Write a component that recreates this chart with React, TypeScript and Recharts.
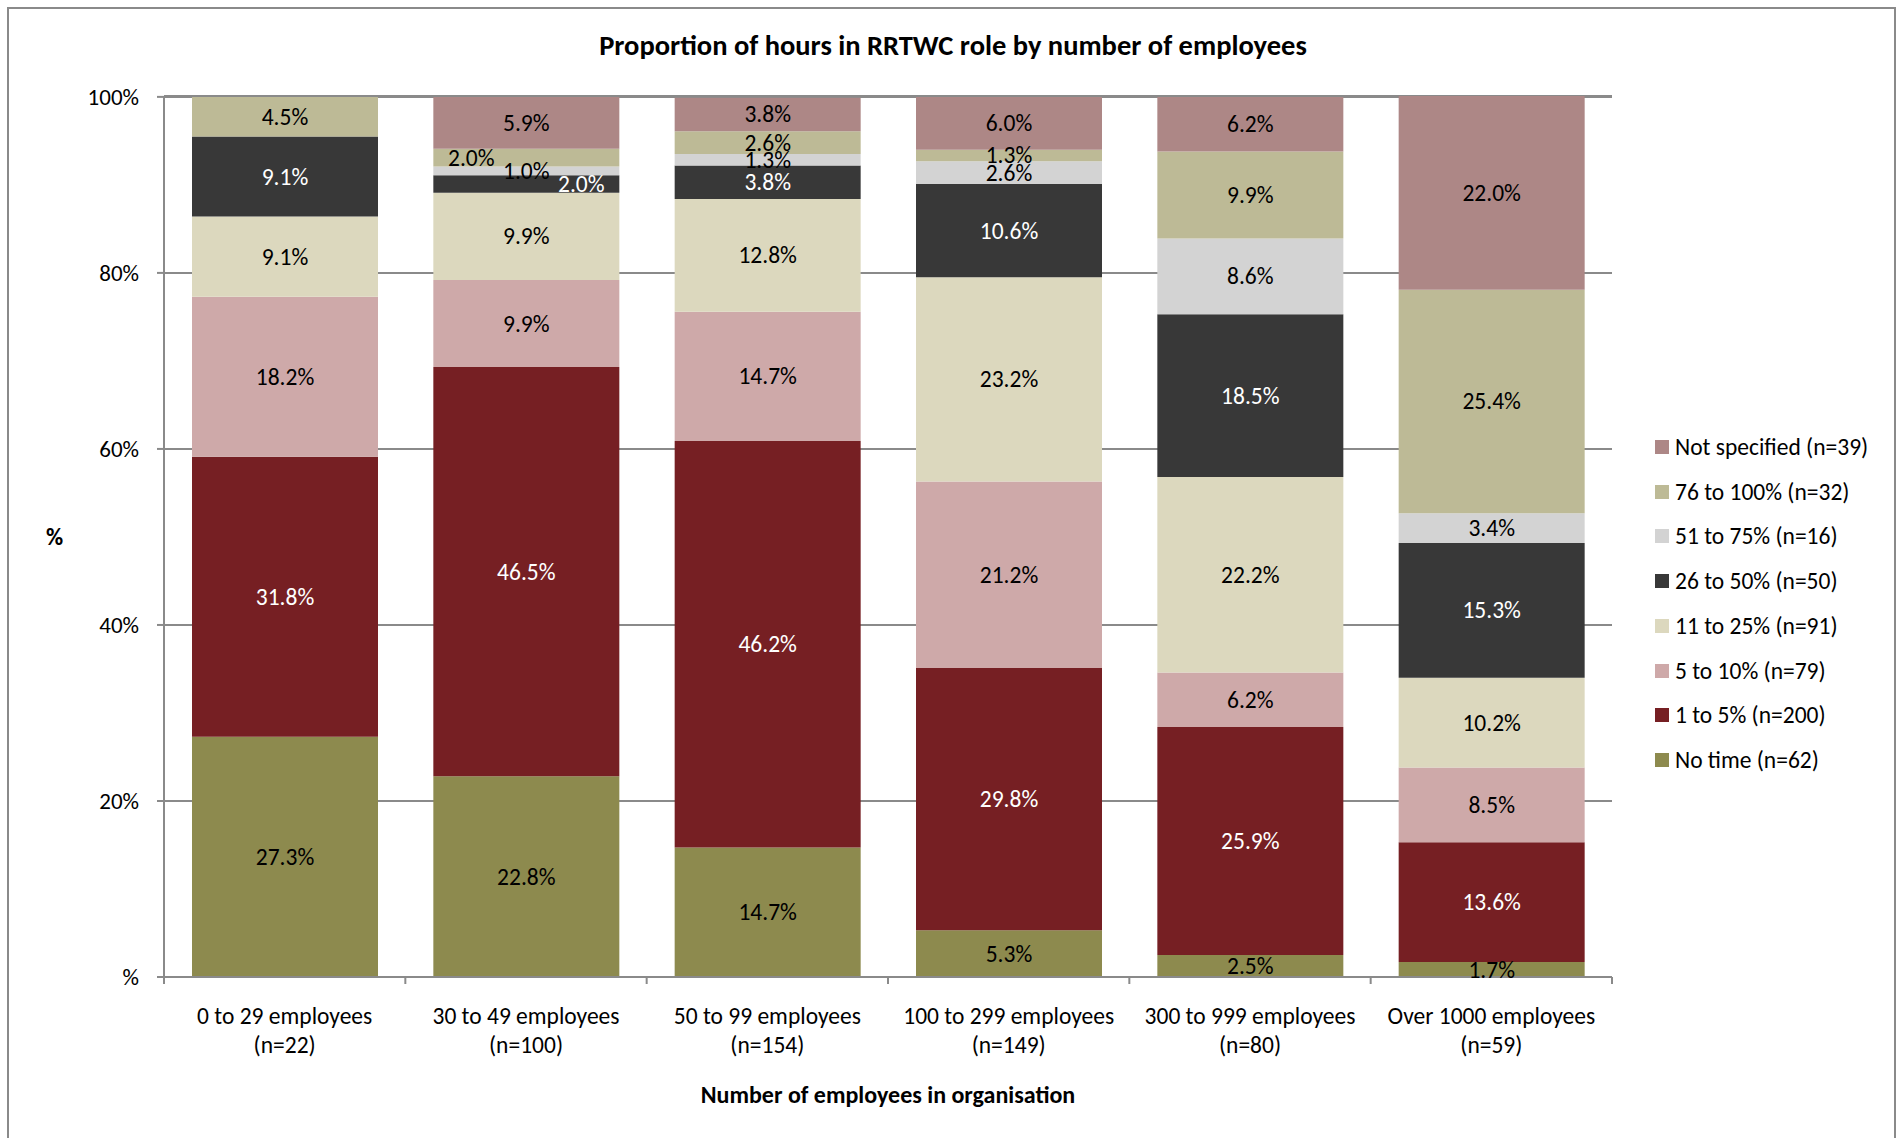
import { Bar, BarChart, CartesianGrid, LabelList, XAxis, YAxis } from "recharts";

const CATEGORIES = [
  "0 to 29 employees",
  "30 to 49 employees",
  "50 to 99 employees",
  "100 to 299 employees",
  "300 to 999 employees",
  "Over 1000 employees",
];
const CATEGORY_COUNTS = ["(n=22)", "(n=100)", "(n=154)", "(n=149)", "(n=80)", "(n=59)"];

// stacking order, bottom to top
const SERIES_NAMES = [
  "No time (n=62)",
  "1 to 5% (n=200)",
  "5 to 10% (n=79)",
  "11 to 25% (n=91)",
  "26 to 50% (n=50)",
  "51 to 75% (n=16)",
  "76 to 100% (n=32)",
  "Not specified (n=39)",
];

const NO_TIME = [27.3, 22.8, 14.7, 5.3, 2.5, 1.7];
const ONE_TO_FIVE = [31.8, 46.5, 46.2, 29.8, 25.9, 13.6];
const FIVE_TO_TEN = [18.2, 9.9, 14.7, 21.2, 6.2, 8.5];
const ELEVEN_TO_25 = [9.1, 9.9, 12.8, 23.2, 22.2, 10.2];
const TWENTYSIX_TO_50 = [9.1, 2.0, 3.8, 10.6, 18.5, 15.3];
const FIFTYONE_TO_75 = [0, 1.0, 1.3, 2.6, 8.6, 3.4];
const SEVENTYSIX_TO_100 = [4.5, 2.0, 2.6, 1.3, 9.9, 25.4];
const NOT_SPECIFIED = [0, 5.9, 3.8, 6.0, 6.2, 22.0];

const SERIES_VALUES = [
  NO_TIME,
  ONE_TO_FIVE,
  FIVE_TO_TEN,
  ELEVEN_TO_25,
  TWENTYSIX_TO_50,
  FIFTYONE_TO_75,
  SEVENTYSIX_TO_100,
  NOT_SPECIFIED,
];

const Y_TICKS = [0, 20, 40, 60, 80, 100];
const Y_TICK_LABELS = ["%", "20%", "40%", "60%", "80%", "100%"];

const SERIES_COLORS = ["#8D8A4E", "#761F23", "#CEA9A9", "#DCD8BE", "#383838", "#D3D3D3", "#BDBA96", "#AD8786"];
const LABEL_COLORS = ["#000", "#fff", "#000", "#000", "#fff", "#000", "#000", "#000"];

// Excel pushed a couple of crowded labels sideways
const LABEL_DX: Record<number, number[]> = {
  4: [0, 55, 0, 0, 0, 0],
  6: [0, -55, 0, 0, 0, 0],
};

const W = 1901;
const H = 1138;
const PLOT_LEFT = 164;
const PLOT_RIGHT = 1612;
const PLOT_TOP = 96;
const PLOT_BOTTOM = 977;
const Y_AXIS_W = 120;
const X_AXIS_H = 110;
const BAND = (PLOT_RIGHT - PLOT_LEFT) / CATEGORIES.length;

const FONT = "Carlito, Calibri, Lato, sans-serif";
const GREY = "#8a8a8a";
const TEXT_SIZE = 23.5;

const data = CATEGORIES.map((category, i) => {
  const row: Record<string, string | number> = { category, count: CATEGORY_COUNTS[i] };
  SERIES_NAMES.forEach((name, s) => {
    row[name] = SERIES_VALUES[s][i];
  });
  return row;
});

function makeLabel(seriesIndex: number) {
  return (props: any) => {
    const value = Number(props.value);
    if (!value) return null;
    const x = Number(props.x);
    const y = Number(props.y);
    const w = Number(props.width);
    const h = Number(props.height);
    const dx = LABEL_DX[seriesIndex]?.[props.index] ?? 0;
    return (
      <text
        x={x + w / 2 + dx}
        y={y + h / 2}
        textAnchor="middle"
        dominantBaseline="central"
        fontFamily={FONT}
        fontSize={TEXT_SIZE}
        fill={LABEL_COLORS[seriesIndex]}
      >
        {value.toFixed(1)}%
      </text>
    );
  };
}

function CategoryTick(props: any) {
  const { x, y, payload, index } = props;
  const i = payload?.index ?? index ?? 0;
  return (
    <g>
      {i === 0 ? <line x1={x - BAND / 2} x2={x - BAND / 2} y1={y} y2={y + 7} stroke={GREY} strokeWidth={2} /> : null}
      <line x1={x + BAND / 2} x2={x + BAND / 2} y1={y} y2={y + 7} stroke={GREY} strokeWidth={2} />
      <text x={x} y={y} textAnchor="middle" fontFamily={FONT} fontSize={TEXT_SIZE} fill="#000">
        <tspan x={x} dy={47}>{payload.value}</tspan>
        <tspan x={x} dy={29}>{CATEGORY_COUNTS[i]}</tspan>
      </text>
    </g>
  );
}

export default function App() {
  return (
    <div style={{ position: "absolute", left: 0, top: 0, width: W, height: H, background: "#fff", overflow: "hidden", fontFamily: FONT }}>
      <div
        style={{
          position: "absolute",
          left: 7,
          top: 7,
          width: 1889,
          height: H + 20,
          border: `2px solid ${GREY}`,
          boxSizing: "border-box",
        }}
      />
      <div
        style={{
          position: "absolute",
          left: 0,
          width: 1906,
          top: 30,
          textAlign: "center",
          fontWeight: 700,
          fontSize: 28.5,
          lineHeight: "32px",
        }}
      >
        Proportion of hours in RRTWC role by number of employees
      </div>
      <div style={{ position: "absolute", left: 46, top: 522, fontWeight: 700, fontSize: 23.5, lineHeight: "30px" }}>%</div>
      <div
        style={{
          position: "absolute",
          left: PLOT_LEFT,
          width: PLOT_RIGHT - PLOT_LEFT,
          top: 1080,
          textAlign: "center",
          fontWeight: 700,
          fontSize: 24,
          lineHeight: "30px",
        }}
      >
        Number of employees in organisation
      </div>

      <div style={{ position: "absolute", left: 0, top: 0 }}>
        <BarChart
          width={W}
          height={H}
          data={data}
          barSize={186}
          margin={{
            top: PLOT_TOP,
            right: W - PLOT_RIGHT,
            bottom: H - PLOT_BOTTOM - X_AXIS_H,
            left: PLOT_LEFT - Y_AXIS_W,
          }}
        >
          <CartesianGrid vertical={false} stroke={GREY} strokeWidth={2} />
          <XAxis
            dataKey="category"
            height={X_AXIS_H}
            interval={0}
            tickLine={false}
            tickSize={0}
            tickMargin={0}
            axisLine={{ stroke: GREY, strokeWidth: 2 }}
            tick={<CategoryTick />}
          />
          <YAxis
            width={Y_AXIS_W}
            domain={[0, 100]}
            ticks={Y_TICKS}
            interval={0}
            tickSize={7}
            tickMargin={18}
            tickFormatter={(v: number) => Y_TICK_LABELS[Y_TICKS.indexOf(v)]}
            axisLine={{ stroke: GREY, strokeWidth: 2 }}
            tickLine={{ stroke: GREY, strokeWidth: 2 }}
            tick={{ fontFamily: FONT, fontSize: 23, fill: "#000" }}
          />
          {SERIES_NAMES.map((name, s) => (
            <Bar key={name} dataKey={name} stackId="hours" fill={SERIES_COLORS[s]} isAnimationActive={false}>
              <LabelList dataKey={name} content={makeLabel(s)} />
            </Bar>
          ))}
        </BarChart>
      </div>

      {SERIES_NAMES.slice()
        .reverse()
        .map((name, k) => {
          const s = SERIES_NAMES.length - 1 - k;
          return (
            <div
              key={name}
              style={{
                position: "absolute",
                left: 1655,
                top: 447 + k * 44.7 - 16,
                height: 32,
                display: "flex",
                alignItems: "center",
                fontSize: 23.5,
                whiteSpace: "nowrap",
              }}
            >
              <span style={{ width: 14, height: 14, background: SERIES_COLORS[s], marginRight: 6, display: "inline-block" }} />
              {name}
            </div>
          );
        })}
    </div>
  );
}
